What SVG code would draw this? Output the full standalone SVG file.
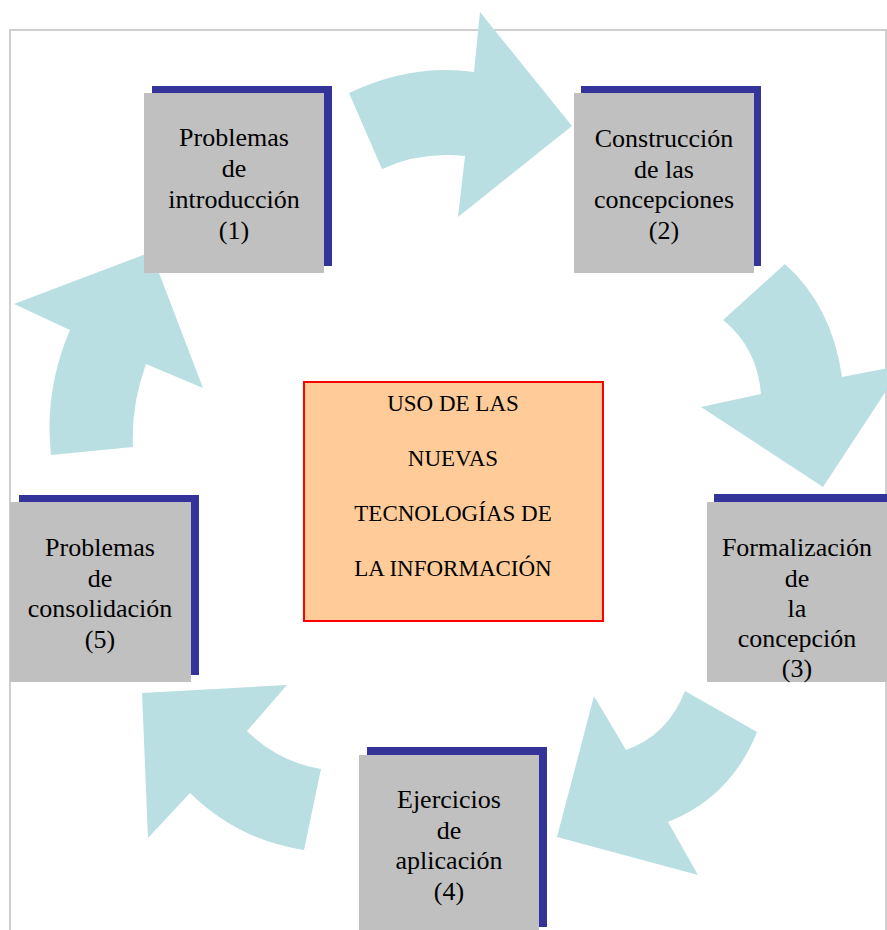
<svg xmlns="http://www.w3.org/2000/svg" width="887" height="930" viewBox="0 0 887 930">
<style>
.frame{fill:none;stroke:#c0c0c0;stroke-width:1.5}
.arrow{fill:#badfe2;stroke:none}
.shadow{fill:#333399}
.box{fill:#c0c0c0}
.lbl{font-family:'Liberation Serif','DejaVu Serif',serif;font-size:26px;fill:#000;text-anchor:middle}
.center{fill:#ffcc99;stroke:#ff0000;stroke-width:2}
.clbl{font-family:'Liberation Serif','DejaVu Serif',serif;font-size:23px;fill:#000;text-anchor:middle}
</style>
<rect width="887" height="930" fill="#ffffff"/>
<rect class="frame" x="10" y="30" width="876" height="920"/>
<g id="connectors">
<path class="arrow" d="M349,93 Q412,63 474,72 L480,12 L572,126 L458,217 L465,156 Q421,151 382,169 Z"/>
<path class="arrow" d="M785,264 Q832,306 842,377 L903,365 L823,487 L701,407 L761,394 Q757,347 723,320 Z"/>
<path class="arrow" d="M685,691 L757,732 Q731,797 668,822 L698,875 L557,837 L594,696 L626,750 Q668,735 685,691 Z"/>
<path class="arrow" d="M321,769 Q278,762 247,731 L287,685 L142,693 L148,838 L190,793 Q238,840 304,850 Z"/>
<path class="arrow" d="M51,455 Q44,390 70,330 L14,304 L151,252 L203,388 L146,364 Q131,405 133,447 Z"/>
</g>
<g id="node1">
<rect class="shadow" x="152" y="86" width="180" height="180"/>
<rect class="box" x="144" y="93" width="180" height="180"/>
<text class="lbl" font-family="Liberation Serif, serif" x="234" y="146">Problemas</text>
<text class="lbl" font-family="Liberation Serif, serif" x="234" y="177">de</text>
<text class="lbl" font-family="Liberation Serif, serif" x="234" y="208">introducción</text>
<text class="lbl" font-family="Liberation Serif, serif" x="234" y="239">(1)</text>
</g>
<g id="node2">
<rect class="shadow" x="581" y="86" width="180" height="180"/>
<rect class="box" x="574" y="93" width="180" height="180"/>
<text class="lbl" x="664" y="147">Construcción</text>
<text class="lbl" x="664" y="178">de las</text>
<text class="lbl" x="664" y="208">concepciones</text>
<text class="lbl" x="664" y="239">(2)</text>
</g>
<g id="node3">
<rect class="shadow" x="714" y="494" width="180" height="180"/>
<rect class="box" x="707" y="502" width="180" height="180"/>
<text class="lbl" x="797" y="556">Formalización</text>
<text class="lbl" x="797" y="587">de</text>
<text class="lbl" x="797" y="617">la</text>
<text class="lbl" x="797" y="647">concepción</text>
<text class="lbl" x="797" y="677">(3)</text>
</g>
<g id="node4">
<rect class="shadow" x="367" y="747" width="180" height="180"/>
<rect class="box" x="359" y="755" width="180" height="180"/>
<text class="lbl" x="449" y="808">Ejercicios</text>
<text class="lbl" x="449" y="839">de</text>
<text class="lbl" x="449" y="869">aplicación</text>
<text class="lbl" x="449" y="900">(4)</text>
</g>
<g id="node5">
<rect class="shadow" x="19" y="495" width="180" height="180"/>
<rect class="box" x="10" y="502" width="181" height="180"/>
<text class="lbl" x="100" y="556">Problemas</text>
<text class="lbl" x="100" y="587">de</text>
<text class="lbl" x="100" y="617">consolidación</text>
<text class="lbl" x="100" y="648">(5)</text>
</g>
<g id="center">
<rect class="center" x="304" y="382" width="299" height="239"/>
<text class="clbl" x="453" y="411">USO DE LAS</text>
<text class="clbl" x="453" y="466">NUEVAS</text>
<text class="clbl" x="453" y="521">TECNOLOGÍAS DE</text>
<text class="clbl" x="453" y="576">LA INFORMACIÓN</text>
</g>
</svg>
